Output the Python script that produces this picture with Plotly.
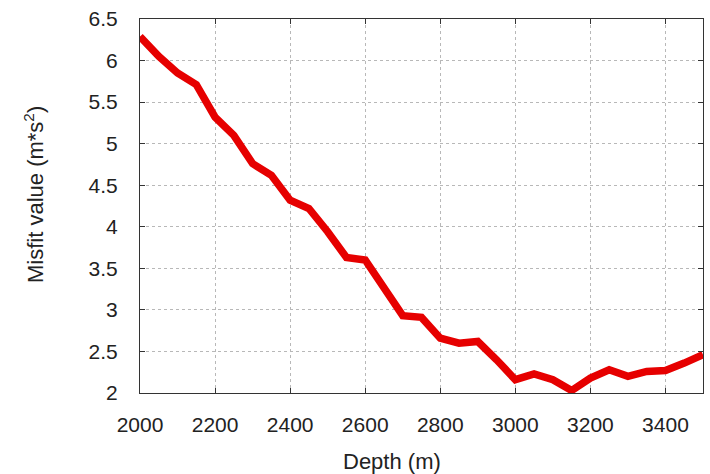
import plotly.graph_objects as go

depth = [2000, 2050, 2100, 2150, 2200, 2250, 2300, 2350, 2400, 2450,
         2500, 2550, 2600, 2650, 2700, 2750, 2800, 2850, 2900, 2950,
         3000, 3050, 3100, 3150, 3200, 3250, 3300, 3350, 3400, 3450, 3500]
misfit = [6.29, 6.05, 5.85, 5.71, 5.32, 5.10, 4.76, 4.62, 4.32, 4.22,
          3.94, 3.63, 3.60, 3.28, 2.93, 2.91, 2.66, 2.60, 2.62, 2.40,
          2.16, 2.23, 2.16, 2.03, 2.18, 2.28, 2.20, 2.26, 2.27, 2.36, 2.46]
xticks = [2000, 2200, 2400, 2600, 2800, 3000, 3200, 3400]
yticks = [2, 2.5, 3, 3.5, 4, 4.5, 5, 5.5, 6, 6.5]
ytick_labels = ["2", "2.5", "3", "3.5", "4", "4.5", "5", "5.5", "6", "6.5"]

W, H = 710, 474
L, R, T, B = 140, 7, 19, 81

fig = go.Figure()
fig.add_trace(go.Scatter(x=depth, y=misfit, mode="lines",
                         line=dict(color="#e60000", width=7.5),
                         showlegend=False))

font = dict(family="Liberation Sans, Arial, sans-serif", size=21, color="#222222")
axis_common = dict(showline=True, linecolor="#333333", linewidth=1.2, mirror="ticks",
                   ticks="inside", ticklen=5, tickcolor="#333333",
                   showgrid=True, gridcolor="#b8b8b8", griddash="dot", gridwidth=1,
                   zeroline=False, tickfont=font)
fig.update_xaxes(range=[2000, 3500], tickvals=xticks, ticklabelstandoff=13, **axis_common)
fig.update_yaxes(range=[2, 6.5], tickvals=yticks, ticktext=ytick_labels,
                 ticklabelstandoff=17, **axis_common)

pw, ph = W - L - R, H - T - B
title_font = dict(font, size=22)
fig.add_annotation(text="Depth (m)", xref="paper", yref="paper",
                   x=(392 - L) / pw, y=-(461 - (T + ph)) / ph,
                   showarrow=False, font=title_font, xanchor="center", yanchor="middle")
fig.add_annotation(text="Misfit value (m*s<sup>2</sup>)", xref="paper", yref="paper",
                   x=-(L - 34) / pw, y=(T + ph - 195) / ph, textangle=-90,
                   showarrow=False, font=title_font, xanchor="center", yanchor="middle")

fig.update_layout(width=W, height=H, margin=dict(l=L, r=R, t=T, b=B),
                  plot_bgcolor="white", paper_bgcolor="white", font=font)
fig.write_html("out.html")
